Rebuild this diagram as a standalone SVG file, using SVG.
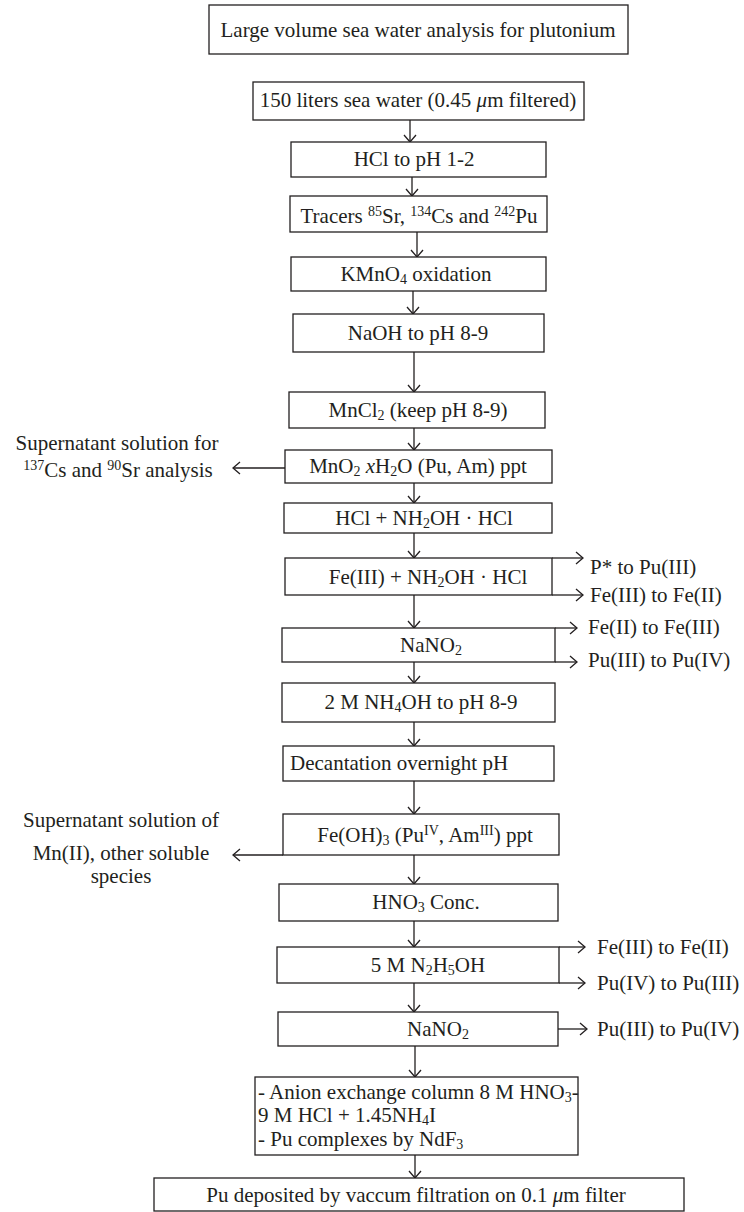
<svg xmlns="http://www.w3.org/2000/svg" width="744" height="1212" viewBox="0 0 744 1212">
<defs>
<style>
.b{fill:#fff;stroke:#231f20;stroke-width:1.3}
.c{fill:none;stroke:#231f20;stroke-width:1.3}
text{font-family:"Liberation Serif","Times New Roman",serif;font-size:21px;fill:#231f20}
.m{text-anchor:middle}
.s{font-size:14px}
.i{font-style:italic}
</style>
<marker id="ah" viewBox="-10 -8 12 16" markerWidth="12" markerHeight="16" markerUnits="userSpaceOnUse" refX="0" refY="0" orient="auto">
<path d="M-7,-6 L0,0 L-7,6" fill="none" stroke="#231f20" stroke-width="1.3"/>
</marker>
</defs>
<rect width="744" height="1212" fill="#fff"/>

<g id="connectors">
<path class="c" marker-end="url(#ah)" d="M410,120 V142"/>
<path class="c" marker-end="url(#ah)" d="M412,177 V196"/>
<path class="c" marker-end="url(#ah)" d="M417,232 V257"/>
<path class="c" marker-end="url(#ah)" d="M413,291 V314"/>
<path class="c" marker-end="url(#ah)" d="M414,352 V392"/>
<path class="c" marker-end="url(#ah)" d="M414,428 V450"/>
<path class="c" marker-end="url(#ah)" d="M414,483 V503"/>
<path class="c" marker-end="url(#ah)" d="M414,533 V558"/>
<path class="c" marker-end="url(#ah)" d="M414,595 V628"/>
<path class="c" marker-end="url(#ah)" d="M414,662 V683"/>
<path class="c" marker-end="url(#ah)" d="M414,722 V746"/>
<path class="c" marker-end="url(#ah)" d="M414,781 V814"/>
<path class="c" marker-end="url(#ah)" d="M414,855 V884"/>
<path class="c" marker-end="url(#ah)" d="M414,921 V947"/>
<path class="c" marker-end="url(#ah)" d="M414,983 V1012"/>
<path class="c" marker-end="url(#ah)" d="M415,1046 V1077"/>
<path class="c" marker-end="url(#ah)" d="M415,1155 V1178"/>
<path class="c" marker-end="url(#ah)" d="M285,468 H233"/>
<path class="c" marker-end="url(#ah)" d="M283,855 H233"/>
<path class="c" marker-end="url(#ah)" d="M552,558 H583"/>
<path class="c" marker-end="url(#ah)" d="M552,595 H583"/>
<path class="c" marker-end="url(#ah)" d="M555,628 H577"/>
<path class="c" marker-end="url(#ah)" d="M555,662 H577"/>
<path class="c" marker-end="url(#ah)" d="M559,947 H585"/>
<path class="c" marker-end="url(#ah)" d="M559,983 H585"/>
<path class="c" marker-end="url(#ah)" d="M558,1029 H587"/>
</g>

<g id="n1"><rect class="b" x="209" y="5" width="419" height="49"/>
<text class="m" x="418" y="37">Large volume sea water analysis for plutonium</text></g>

<g id="n2"><rect class="b" x="253" y="82" width="331" height="38"/>
<text class="m" x="418" y="107">150 liters sea water (0.45 <tspan class="i">μ</tspan>m filtered)</text></g>

<g id="n3"><rect class="b" x="291" y="142" width="255" height="35"/>
<text class="m" x="414" y="166">HCl to pH 1-2</text></g>

<g id="n4"><rect class="b" x="290" y="196" width="257" height="36"/>
<text class="m" x="419" y="223">Tracers <tspan class="s" dy="-7">85</tspan><tspan dy="7">Sr, </tspan><tspan class="s" dy="-7">134</tspan><tspan dy="7">Cs and </tspan><tspan class="s" dy="-7">242</tspan><tspan dy="7">Pu</tspan></text></g>

<g id="n5"><rect class="b" x="291" y="257" width="255" height="34"/>
<text class="m" x="416" y="281">KMnO<tspan class="s" dy="3">4</tspan><tspan dy="-3"> oxidation</tspan></text></g>

<g id="n6"><rect class="b" x="293" y="314" width="251" height="38"/>
<text class="m" x="418" y="340">NaOH to pH 8-9</text></g>

<g id="n7"><rect class="b" x="289" y="392" width="256" height="36"/>
<text class="m" x="418" y="417">MnCl<tspan class="s" dy="3">2</tspan><tspan dy="-3"> (keep pH 8-9)</tspan></text></g>

<g id="n8"><rect class="b" x="285" y="450" width="267" height="33"/>
<text class="m" x="418" y="473">MnO<tspan class="s" dy="3">2</tspan><tspan dy="-3"> </tspan><tspan class="i">x</tspan>H<tspan class="s" dy="3">2</tspan><tspan dy="-3">O (Pu, Am) ppt</tspan></text></g>

<g id="n9"><rect class="b" x="284" y="503" width="268" height="30"/>
<text class="m" x="424" y="525">HCl + NH<tspan class="s" dy="3">2</tspan><tspan dy="-3">OH · HCl</tspan></text></g>

<g id="n10"><rect class="b" x="285" y="558" width="267" height="37"/>
<text class="m" x="428" y="584">Fe(III) + NH<tspan class="s" dy="3">2</tspan><tspan dy="-3">OH · HCl</tspan></text></g>
<text x="590" y="574">P* to Pu(III)</text>
<text x="590" y="602">Fe(III) to Fe(II)</text>

<g id="n11"><rect class="b" x="282" y="628" width="273" height="34"/>
<text class="m" x="431" y="652">NaNO<tspan class="s" dy="3">2</tspan></text></g>
<text x="588" y="634">Fe(II) to Fe(III)</text>
<text x="588" y="667">Pu(III) to Pu(IV)</text>

<g id="n12"><rect class="b" x="282" y="683" width="273" height="39"/>
<text class="m" x="421" y="709">2 M NH<tspan class="s" dy="3">4</tspan><tspan dy="-3">OH to pH 8-9</tspan></text></g>

<g id="n13"><rect class="b" x="283" y="746" width="271" height="35"/>
<text x="290" y="770">Decantation overnight pH</text></g>

<g id="n14"><rect class="b" x="283" y="814" width="276" height="41"/>
<text class="m" x="425" y="842">Fe(OH)<tspan class="s" dy="3">3</tspan><tspan dy="-3"> (Pu</tspan><tspan class="s" dy="-7">IV</tspan><tspan dy="7">, Am</tspan><tspan class="s" dy="-7">III</tspan><tspan dy="7">) ppt</tspan></text></g>

<g id="n15"><rect class="b" x="279" y="884" width="279" height="37"/>
<text class="m" x="426" y="909">HNO<tspan class="s" dy="3">3</tspan><tspan dy="-3"> Conc.</tspan></text></g>

<g id="n16"><rect class="b" x="277" y="947" width="282" height="36"/>
<text class="m" x="428" y="972">5 M N<tspan class="s" dy="3">2</tspan><tspan dy="-3">H</tspan><tspan class="s" dy="3">5</tspan><tspan dy="-3">OH</tspan></text></g>
<text x="597" y="954">Fe(III) to Fe(II)</text>
<text x="597" y="990">Pu(IV) to Pu(III)</text>

<g id="n17"><rect class="b" x="278" y="1012" width="280" height="34"/>
<text class="m" x="438" y="1036">NaNO<tspan class="s" dy="3">2</tspan></text></g>
<text x="597" y="1036">Pu(III) to Pu(IV)</text>

<g id="n18"><rect class="b" x="255" y="1077" width="323" height="78"/>
<text x="258" y="1099">- Anion exchange column 8 M HNO<tspan class="s" dy="3">3</tspan><tspan dy="-3">-</tspan></text>
<text x="258" y="1122">9 M HCl + 1.45NH<tspan class="s" dy="3">4</tspan><tspan dy="-3">I</tspan></text>
<text x="258" y="1146">- Pu complexes by NdF<tspan class="s" dy="3">3</tspan></text></g>

<g id="n19"><rect class="b" x="154" y="1178" width="530" height="33"/>
<text class="m" x="416" y="1202">Pu deposited by vaccum filtration on 0.1 <tspan class="i">μ</tspan>m filter</text></g>

<g id="left1">
<text class="m" x="117" y="450">Supernatant solution for</text>
<text class="m" x="118" y="477"><tspan class="s" dy="-7">137</tspan><tspan dy="7">Cs and </tspan><tspan class="s" dy="-7">90</tspan><tspan dy="7">Sr analysis</tspan></text>
</g>
<g id="left2">
<text class="m" x="121" y="827">Supernatant solution of</text>
<text class="m" x="121" y="860">Mn(II), other soluble</text>
<text class="m" x="121" y="883">species</text>
</g>
</svg>
